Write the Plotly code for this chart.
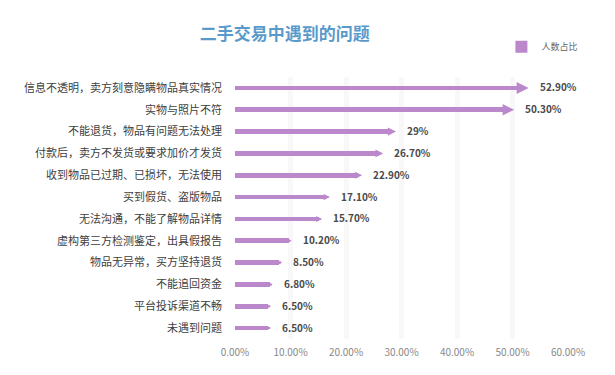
import plotly.graph_objects as go

categories = [
    "信息不透明，卖方刻意隐瞒物品真实情况",
    "实物与照片不符",
    "不能退货，物品有问题无法处理",
    "付款后，卖方不发货或要求加价才发货",
    "收到物品已过期、已损坏，无法使用",
    "买到假货、盗版物品",
    "无法沟通，不能了解物品详情",
    "虚构第三方检测鉴定，出具假报告",
    "物品无异常，买方坚持退货",
    "不能追回资金",
    "平台投诉渠道不畅",
    "未遇到问题",
]
values = [52.9, 50.3, 29.0, 26.7, 22.9, 17.1, 15.7, 10.2, 8.5, 6.8, 6.5, 6.5]
value_labels = ["52.90%", "50.30%", "29%", "26.70%", "22.90%", "17.10%",
                "15.70%", "10.20%", "8.50%", "6.80%", "6.50%", "6.50%"]
x_ticks = [0, 0.1, 0.2, 0.3, 0.4, 0.5, 0.6]

COLOR = "#bb88cb"
FONT = "Noto Sans CJK SC"

plot_w_px = 333.0
px_per_unit = plot_w_px / 0.6

fracs = [v / 100.0 for v in values]
head_sizes = [0.35 + 0.016 * v for v in values]
head_len_units = [10 * s / px_per_unit for s in head_sizes]
shaft = [f - 0.6 * h for f, h in zip(fracs, head_len_units)]

fig = go.Figure()
fig.add_trace(go.Bar(
    x=shaft, y=categories, orientation="h", width=0.22,
    marker=dict(color=COLOR, line=dict(width=0)),
    name="人数占比", showlegend=True, hoverinfo="skip",
))

annotations = []
for f, h, s, c, lab in zip(fracs, head_len_units, head_sizes, categories, value_labels):
    annotations.append(dict(
        x=f, y=c, ax=f - 2 * h, ay=c, xref="x", yref="y", axref="x", ayref="y",
        text="", showarrow=True, arrowhead=2, arrowsize=s, arrowwidth=2,
        arrowcolor=COLOR,
    ))
    annotations.append(dict(
        x=f, y=c, xref="x", yref="y", text=lab, showarrow=False,
        xanchor="left", xshift=9, yshift=1,
        font=dict(family=FONT, size=10, color="#4a4a4a", weight="bold"),
    ))

fig.update_layout(
    width=615, height=375,
    margin=dict(l=235, r=47, t=77, b=36, autoexpand=False),
    paper_bgcolor="white", plot_bgcolor="white",
    title=dict(text="二手交易中遇到的问题", x=0.463, xanchor="center", y=0.91, yanchor="middle",
               font=dict(family=FONT, size=17, color="#5a9acb", weight="bold")),
    font=dict(family=FONT),
    bargap=0,
    showlegend=True,
    legend=dict(x=0.80, y=1.115, xanchor="left", yanchor="middle", itemwidth=30,
                font=dict(family=FONT, size=9, color="#666666"), bgcolor="rgba(0,0,0,0)"),
    annotations=annotations,
)
fig.update_xaxes(
    range=[0, 0.6], tickvals=x_ticks, tickformat=".2%",
    showgrid=True, gridcolor="#f8f8f8", gridwidth=5,
    zeroline=False, showline=False, ticks="",
    tickfont=dict(family=FONT, size=10, color="#888888"),
    ticklabelstandoff=6, fixedrange=True,
)
fig.update_yaxes(
    autorange="reversed", showgrid=False, zeroline=False, showline=False, ticks="",
    tickfont=dict(family=FONT, size=11, color="#404040"),
    ticklabelstandoff=12, fixedrange=True,
)

fig.write_html("out.html", config={"displayModeBar": False},
               post_script="document.body.style.margin='0';")
